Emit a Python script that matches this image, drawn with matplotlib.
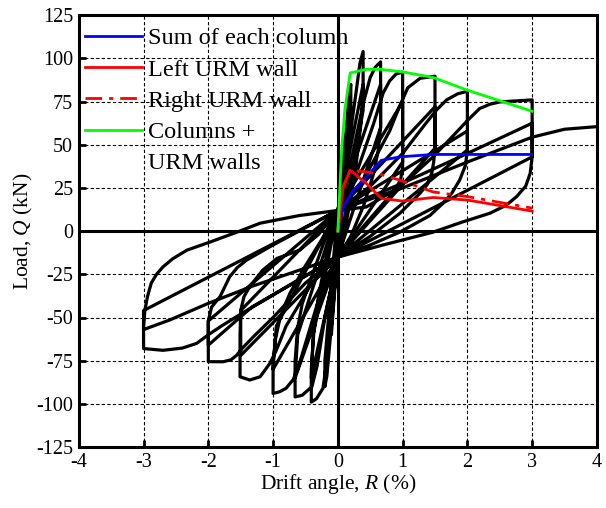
import matplotlib
matplotlib.use("Agg")
import matplotlib.pyplot as plt
from matplotlib.lines import Line2D

plt.rcParams['font.family'] = ['Liberation Serif', 'DejaVu Serif']
plt.rcParams['mathtext.fontset'] = 'custom'
plt.rcParams['mathtext.rm'] = 'Liberation Serif'
plt.rcParams['mathtext.it'] = 'Liberation Serif:italic'
plt.rcParams['axes.unicode_minus'] = False

# Hysteresis loops: (drift angle %, load kN)
cyc_010 = [(0, 0), (0.05, 30), (0.1, 55), (0.1, 45), (0.05, 15), (0, -5),
           (-0.05, -35), (-0.1, -60), (-0.1, -50), (-0.05, -20), (0, 5)]
cyc_020 = [(0, 5), (0.1, 45), (0.17, 78), (0.2, 85), (0.2, 70), (0.1, 25), (0, -12),
           (-0.1, -55), (-0.17, -84), (-0.2, -90), (-0.2, -75), (-0.1, -30), (0, 12)]
cyc_040 = [(0, 12), (0.15, 45), (0.28, 80), (0.34, 97), (0.39, 104),
           (0.39, 80), (0.35, 60), (0.28, 38), (0.18, 15), (0.08, -5), (0, -15),
           (-0.1, -50), (-0.18, -78), (-0.23, -91), (-0.33, -97), (-0.41, -99),
           (-0.41, -80), (-0.37, -58), (-0.3, -38), (-0.18, -15), (0, 12),
           (0.39, 85), (0.39, 70), (0, -15), (-0.41, -85), (-0.38, -60), (0, 12)]
cyc_067 = [(0, 12), (0.2, 40), (0.4, 75), (0.5, 89), (0.58, 95), (0.66, 98),
           (0.66, 60), (0.62, 46), (0.55, 33), (0.4, 15), (0.2, -3), (0, -15),
           (-0.2, -50), (-0.32, -78), (-0.4, -90), (-0.55, -95), (-0.66, -96),
           (-0.66, -75), (-0.62, -56), (-0.55, -42), (-0.42, -28), (-0.2, -5), (0, 12),
           (0.66, 85), (0.66, 60), (0, -15), (-0.66, -85), (-0.62, -60), (0, 12)]
cyc_100 = [(0, 12), (0.3, 35), (0.55, 62), (0.7, 80), (0.8, 87), (0.9, 91), (1.0, 92),
           (1.0, 37), (0.97, 30), (0.91, 25.6), (0.8, 20), (0.7, 16), (0.4, 3), (0, -15),
           (-0.3, -40), (-0.5, -65), (-0.62, -80), (-0.69, -86), (-0.8, -91), (-0.9, -93),
           (-1.0, -94), (-1.0, -75), (-0.96, -62), (-0.9, -51.5), (-0.82, -43),
           (-0.74, -36), (-0.5, -20), (-0.25, -5), (0, 12),
           (1.0, 75), (1.0, 40), (0, -15), (-1.0, -80), (-0.95, -55), (0, 12)]
cyc_150 = [(0, 12), (0.4, 30), (0.8, 58), (0.95, 72), (1.08, 83), (1.27, 88.5), (1.5, 89.7),
           (1.5, 48.6), (1.48, 40), (1.45, 33.5), (1.38, 27), (1.27, 22), (0.96, 10.4),
           (0.5, -3), (0, -15),
           (-0.4, -30), (-0.8, -55), (-0.95, -69), (-1.05, -76.6), (-1.2, -84.3),
           (-1.36, -86.2), (-1.51, -84.3), (-1.51, -60), (-1.5, -46), (-1.45, -38),
           (-1.36, -32), (-1.16, -22.6), (-0.94, -15.8), (-0.59, -11), (-0.3, -2), (0, 12),
           (1.5, 72), (1.5, 48), (0, -15), (-1.5, -72), (-1.5, -46), (0, 12)]
cyc_200 = [(0, 12), (0.5, 26), (1.0, 45), (1.35, 62), (1.52, 70), (1.68, 76), (1.85, 79.5),
           (2.0, 81), (2.0, 47), (1.97, 38), (1.88, 29.5), (1.76, 22), (1.62, 16),
           (1.42, 9), (0.96, -0.5), (0.5, -8), (0, -15),
           (-0.5, -30), (-1.0, -50), (-1.3, -61), (-1.48, -68), (-1.56, -71.8),
           (-1.65, -74.5), (-1.77, -75.6), (-2.0, -75.6), (-2.0, -52), (-1.95, -44),
           (-1.82, -38), (-1.67, -26.4), (-1.55, -21), (-1.41, -16.8), (-1.0, -8),
           (-0.5, 2), (0, 12),
           (2.0, 58), (2.0, 47), (0, -15), (-1.33, -44), (-2.0, -66), (-2.0, -52), (0, 12)]
cyc_300 = [(0, 12), (0.44, 14), (0.96, 25.6), (1.47, 43), (1.8, 56), (2.0, 64), (2.19, 71),
           (2.35, 73.5), (2.5, 74.8), (3.0, 76), (3.0, 60), (3.0, 43), (2.97, 33.5),
           (2.9, 26), (2.76, 20), (2.6, 15), (2.35, 10.4), (1.9, 5), (1.47, -0.6),
           (0.7, -8), (0, -15),
           (-0.5, -26), (-1.0, -37), (-1.5, -48), (-1.8, -55), (-2.0, -60), (-2.18, -65),
           (-2.4, -67.7), (-2.7, -69), (-3.0, -68), (-3.0, -55), (-2.98, -46),
           (-2.94, -38), (-2.88, -30), (-2.8, -25), (-2.7, -20.7), (-2.55, -16),
           (-2.33, -11), (-1.98, -6.4), (-1.56, -0.6), (-1.2, 4.6), (-0.6, 9), (0, 12),
           (1.0, 27.8), (2.0, 45), (3.0, 62.5), (3.0, 43), (0, -15),
           (-1.33, -32), (-2.0, -41.8), (-2.6, -51.5), (-3.0, -57), (-3.0, -46), (0, 12)]
push_over = [(0, 12), (1.0, 25), (2.0, 40), (3.0, 54.4), (3.5, 59), (4.0, 60.5)]

# Analytical envelopes
sum_col_R = [0, 0.08, 0.24, 0.44, 0.67, 0.96, 1.47, 3.0]
sum_col_Q = [0, 14, 23.7, 31.4, 41, 43, 44.4, 44.4]
left_R = [0, 0.08, 0.19, 0.44, 0.67, 1.0, 1.47, 2.0, 3.0]
left_Q = [0, 25.6, 35.3, 27.6, 19, 17.4, 19.5, 18, 11.6]
right_R = [0, 0.08, 0.19, 0.44, 0.65, 0.96, 1.47, 2.0, 3.0]
right_Q = [0, 25.6, 35.3, 34.3, 33, 29.5, 22.7, 20, 13.3]
total_R = [0, 0.06, 0.11, 0.19, 0.44, 0.65, 1.0, 1.47, 2.0, 3.0]
total_Q = [0, 48, 71, 91.6, 93.7, 93.7, 92.2, 89, 81.6, 69.4]

loops = cyc_010 + cyc_020 + cyc_040 + cyc_067 + cyc_100 + cyc_150 + cyc_200 + cyc_300 + push_over
hx = [p[0] for p in loops]
hy = [p[1] for p in loops]

dashdot = (0, (6, 2.5, 1.5, 2.5))

fig = plt.figure(figsize=(6.06, 5.08), dpi=100)
ax = fig.add_axes([0.130, 0.120, 0.855, 0.850])

ax.grid(True, color='black', linestyle=(0, (3, 2)), linewidth=0.8)
ax.set_axisbelow(True)
ax.axhline(0, color='black', linewidth=2.2, zorder=1.5)
ax.axvline(0, color='black', linewidth=2.2, zorder=1.5)

ax.plot(hx, hy, color='black', linewidth=2.3, solid_joinstyle='round', zorder=2)
ax.plot(sum_col_R, sum_col_Q, color='#0000ff', linewidth=2.0, zorder=3)
ax.plot(left_R, left_Q, color='#ff0000', linewidth=2.0, zorder=3)
ax.plot(right_R, right_Q, color='#ff0000', linewidth=2.0, linestyle=dashdot, zorder=3)
ax.plot(total_R, total_Q, color='#00ff00', linewidth=2.0, zorder=3)

ax.set_xlim(-4, 4)
ax.set_ylim(-125, 125)
ax.set_xticks(range(-4, 5))
ax.set_yticks(range(-125, 126, 25))
ax.tick_params(direction='in', length=5, width=2, labelsize=14.5, top=False, right=False, pad=4)
for s in ax.spines.values():
    s.set_linewidth(2.2)

ax.set_xlabel('Drift angle, $\\mathit{R}$ (%)', fontsize=15.5, labelpad=0)
ax.set_ylabel('Load, $\\mathit{Q}$ (kN)', fontsize=15.5, labelpad=1)

handles = [Line2D([], [], color='#0000ff', linewidth=2.0),
           Line2D([], [], color='#ff0000', linewidth=2.0),
           Line2D([], [], color='#ff0000', linewidth=2.0, linestyle=dashdot),
           Line2D([], [], color='#00ff00', linewidth=2.0),
           Line2D([], [], color='none')]
labels = ['Sum of each column', 'Left URM wall', 'Right URM wall', 'Columns +', 'URM walls']
ax.legend(handles, labels, loc='upper left', bbox_to_anchor=(-0.0116, 1.0), frameon=False,
          fontsize=17.5, handlelength=2.35, handletextpad=0.25, labelspacing=0.38,
          borderaxespad=0.2, borderpad=0.3)

fig.savefig('out.png', dpi=100)
